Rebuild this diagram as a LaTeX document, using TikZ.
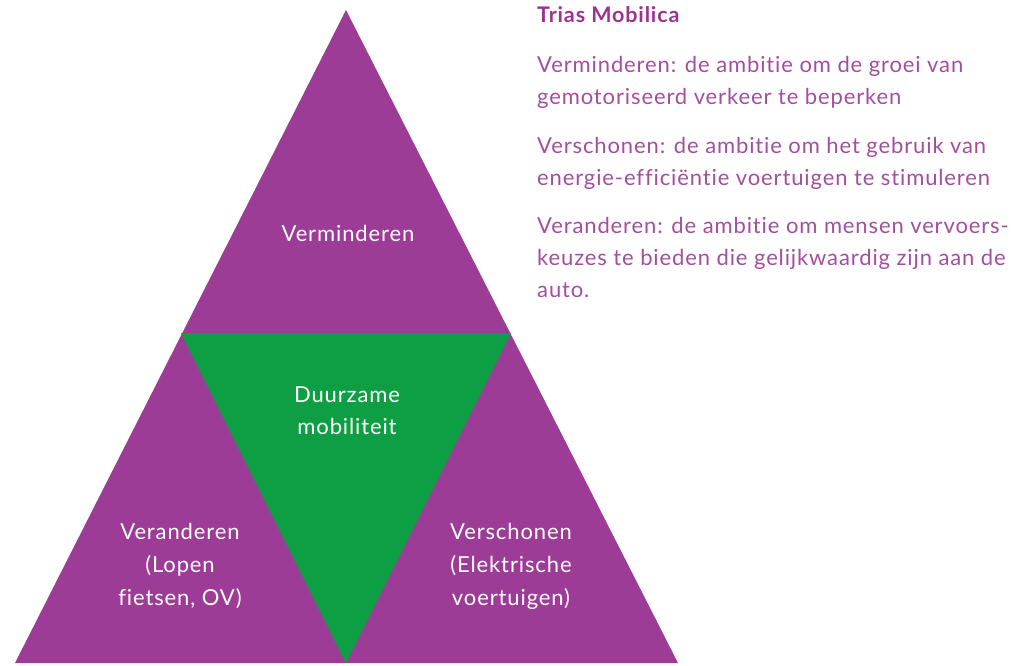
\documentclass[tikz,border=0pt]{standalone}
\usepackage{fontspec}
\setmainfont{Lato}[Ligatures={NoCommon},LetterSpace=4]
\definecolor{tripurple}{HTML}{9D3C96}
\definecolor{trigreen}{HTML}{0E9F45}
\definecolor{headpurple}{HTML}{9A3493}
\definecolor{bodypurple}{HTML}{A54DA0}
\begin{document}
\begin{tikzpicture}[x=1pt,y=-1pt,
  tritext/.style={text=white,font=\fontsize{22}{32}\selectfont,align=center,anchor=base,inner sep=0pt},
  bodytext/.style={text=bodypurple,font=\fontsize{22}{32}\selectfont,anchor=base west,inner sep=0pt},
  headtext/.style={text=headpurple,font=\fontsize{21.5}{32}\selectfont\bfseries,anchor=base west,inner sep=0pt}]
\useasboundingbox (0,0) rectangle (1014,665);
\coordinate (apex) at (346,10);
\coordinate (bl) at (15,663);
\coordinate (br) at (678,663);
\coordinate (ml) at (181,333);
\coordinate (mr) at (511,333);
\coordinate (mb) at (346,663);
\fill[tripurple] (apex) -- (bl) -- (br) -- cycle;
\fill[trigreen] (ml) -- (mr) -- (mb) -- cycle;
\node[tritext] (verm) at (348,241) {Verminderen};
\node[tritext] (duur1) at (347,402) {Duurzame};
\node[tritext] (duur2) at (347,434) {mobiliteit};
\node[tritext] (vera1) at (180,539) {Veranderen};
\node[tritext] (vera2) at (180,572) {(Lopen};
\node[tritext] (vera3) at (180,605) {fietsen, OV)};
\node[tritext] (vers1) at (511,539) {Verschonen};
\node[tritext] (vers2) at (511,572) {(Elektrische};
\node[tritext] (vers3) at (511,605) {voertuigen)};
\node[headtext] (head) at (537,22) {Trias Mobilica};
\node[bodytext] (b1) at (537,72) {Verminderen: de ambitie om de groei van};
\node[bodytext] (b2) at (537,104) {gemotoriseerd verkeer te beperken};
\node[bodytext] (b3) at (537,153) {Verschonen: de ambitie om het gebruik van};
\node[bodytext] (b4) at (537,185) {energie-efficiëntie voertuigen te stimuleren};
\node[bodytext] (b5) at (537,233) {Veranderen: de ambitie om mensen vervoers-};
\node[bodytext] (b6) at (537,265) {keuzes te bieden die gelijkwaardig zijn aan de};
\node[bodytext] (b7) at (537,297) {auto.};
\end{tikzpicture}
\end{document}
